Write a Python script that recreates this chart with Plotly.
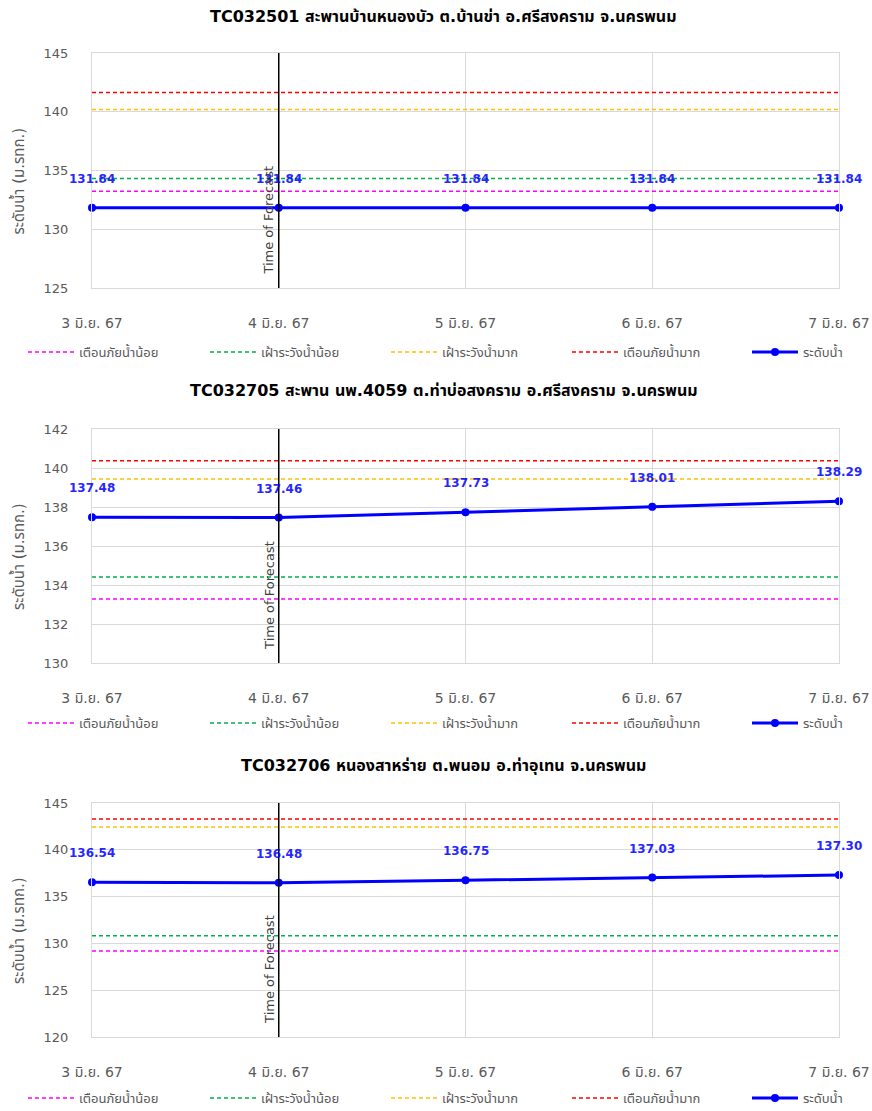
import plotly.graph_objects as go

# ---------------- data ----------------
dates = ["3 มิ.ย. 67", "4 มิ.ย. 67", "5 มิ.ย. 67", "6 มิ.ย. 67", "7 มิ.ย. 67"]
forecast_date = "4 มิ.ย. 67"

station_titles = [
    "TC032501 สะพานบ้านหนองบัว ต.บ้านข่า อ.ศรีสงคราม จ.นครพนม",
    "TC032705 สะพาน นพ.4059 ต.ท่าบ่อสงคราม อ.ศรีสงคราม จ.นครพนม",
    "TC032706 หนองสาหร่าย ต.พนอม อ.ท่าอุเทน จ.นครพนม",
]

threshold_names = ["เตือนภัยน้ำน้อย", "เฝ้าระวังน้ำน้อย", "เฝ้าระวังน้ำมาก", "เตือนภัยน้ำมาก"]
series_name = "ระดับน้ำ"
y_title = "ระดับน้ำ (ม.รทก.)"
forecast_text = "Time of Forecast"

water_1 = [131.84, 131.84, 131.84, 131.84, 131.84]
water_2 = [137.48, 137.46, 137.73, 138.01, 138.29]
water_3 = [136.54, 136.48, 136.75, 137.03, 137.30]

thresholds_1 = [133.23, 134.32, 140.20, 141.63]
thresholds_2 = [133.28, 134.41, 139.44, 140.37]
thresholds_3 = [129.20, 130.82, 142.43, 143.29]

y_ticks_1 = [125, 130, 135, 140, 145]
y_ticks_2 = [130, 132, 134, 136, 138, 140, 142]
y_ticks_3 = [120, 125, 130, 135, 140, 145]

# ---------------- styling ----------------
W, H = 872, 1111
FONT = "'DejaVu Sans', Tahoma, 'Noto Sans Thai', sans-serif"
threshold_colors = ["#ff00ff", "#00b050", "#ffc000", "#ff0000"]
water_color = "#0000ff"
grid_color = "#d9d9d9"
tick_color = "#595959"

panels = [
    dict(title=station_titles[0], water=water_1, thr=thresholds_1, ticks=y_ticks_1,
         top=53, bottom=288, title_y=17, legend_y=352),
    dict(title=station_titles[1], water=water_2, thr=thresholds_2, ticks=y_ticks_2,
         top=429, bottom=663, title_y=390, legend_y=723),
    dict(title=station_titles[2], water=water_3, thr=thresholds_3, ticks=y_ticks_3,
         top=803, bottom=1037, title_y=765, legend_y=1098),
]

plot_left, plot_right = 92, 839
legend_line_starts = [28, 210, 391, 572, 752]
legend_item_width = 46

fig = go.Figure()
annotations = []
shapes = []
layout_updates = {}
legend_count = 0


def next_legend(x_px, y_px):
    global legend_count
    legend_count += 1
    lid = "legend" if legend_count == 1 else "legend" + str(legend_count)
    layout_updates[lid] = dict(
        orientation="h", x=(x_px - 5) / W, xanchor="left",
        y=1 - y_px / H, yanchor="middle",
        font=dict(family=FONT, size=13, color=tick_color),
        bgcolor="rgba(0,0,0,0)", itemwidth=legend_item_width,
        borderwidth=0,
    )
    return lid


for i, p in enumerate(panels):
    n = "" if i == 0 else str(i + 1)
    xref, yref = "x" + n, "y" + n

    for k, (name, val, col) in enumerate(zip(threshold_names, p["thr"], threshold_colors)):
        fig.add_trace(go.Scatter(
            x=dates, y=[val for _ in dates], mode="lines", name=name,
            line=dict(color=col, width=1.5, dash="4px,3px"),
            xaxis=xref, yaxis=yref,
            legend=next_legend(legend_line_starts[k], p["legend_y"]),
            hoverinfo="skip",
        ))
    fig.add_trace(go.Scatter(
        x=dates, y=p["water"], mode="lines+markers", name=series_name,
        line=dict(color=water_color, width=3),
        marker=dict(color=water_color, size=8),
        xaxis=xref, yaxis=yref,
        legend=next_legend(legend_line_starts[4], p["legend_y"]),
        cliponaxis=False,
    ))

    for d, v in zip(dates, p["water"]):
        annotations.append(dict(
            x=d, y=v, xref=xref, yref=yref, text=f"{v:.2f}", showarrow=False,
            yshift=29, font=dict(family=FONT, size=12, color=water_color, weight="bold"),
            opacity=0.85,
        ))

    shapes.append(dict(type="line", xref=xref, yref=yref + " domain",
                       x0=forecast_date, x1=forecast_date, y0=0, y1=1,
                       line=dict(color="black", width=1.5), layer="above"))
    annotations.append(dict(
        x=forecast_date, y=0.29, xref=xref, yref=yref + " domain", text=forecast_text,
        textangle=-90, showarrow=False, xshift=-10, xanchor="center", yanchor="middle",
        font=dict(family=FONT, size=13, color="#404040"),
    ))

    annotations.append(dict(
        x=444 / W, y=1 - p["title_y"] / H, xref="paper", yref="paper",
        text="<b>" + p["title"] + "</b>", showarrow=False,
        xanchor="center", yanchor="middle",
        font=dict(family=FONT, size=16, color="#000000"),
    ))
    annotations.append(dict(
        x=18 / W, y=0.453, xref="paper", yref=yref + " domain", text=y_title,
        textangle=-90, showarrow=False, xanchor="center", yanchor="middle",
        font=dict(family=FONT, size=15, color=tick_color),
    ))

    ymin, ymax = p["ticks"][0], p["ticks"][-1]
    layout_updates["xaxis" + n] = dict(
        domain=[plot_left / W, plot_right / W], anchor=yref,
        type="category", range=[0, len(dates) - 1],
        showgrid=True, gridcolor=grid_color, gridwidth=1,
        showline=True, linecolor=grid_color, mirror=True,
        ticks="outside", ticklen=22, tickcolor="rgba(0,0,0,0)",
        tickfont=dict(family=FONT, size=14, color=tick_color),
        zeroline=False, automargin=False,
    )
    layout_updates["yaxis" + n] = dict(
        domain=[1 - p["bottom"] / H, 1 - p["top"] / H], anchor=xref,
        range=[ymin, ymax], tickvals=p["ticks"],
        showgrid=True, gridcolor=grid_color, gridwidth=1,
        showline=True, linecolor=grid_color, mirror=True,
        ticks="outside", ticklen=20, tickcolor="rgba(0,0,0,0)",
        tickfont=dict(family=FONT, size=13, color=tick_color),
        zeroline=False, automargin=False,
    )

fig.update_layout(
    width=W, height=H,
    margin=dict(l=0, r=0, t=0, b=0, autoexpand=False),
    paper_bgcolor="white", plot_bgcolor="white",
    showlegend=True,
    annotations=annotations, shapes=shapes,
    font=dict(family=FONT),
    **layout_updates,
)

fig.write_html(
    "out.html",
    config={"displayModeBar": False},
    post_script="document.body.style.margin='0';document.body.style.padding='0';"
                "document.body.style.overflow='hidden';",
)
